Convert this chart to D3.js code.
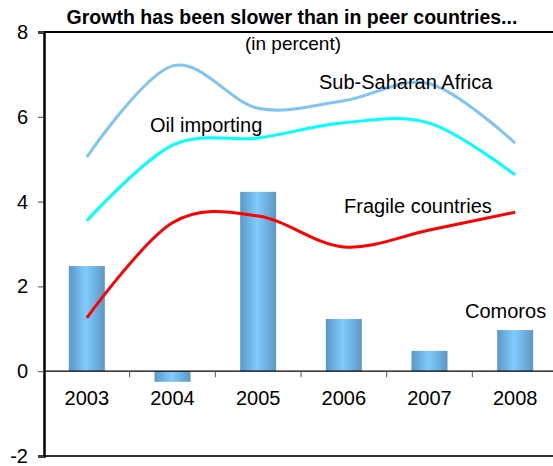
<!DOCTYPE html>
<html>
<head>
<meta charset="utf-8">
<script src="https://cdn.jsdelivr.net/npm/d3@7"></script>
<style>
  html, body { margin: 0; padding: 0; background: #fff; }
  svg { display: block; font-family: "Liberation Sans", Arial, sans-serif; }
</style>
</head>
<body>
<svg id="chart" width="553" height="466"></svg>
<script>
// Real GDP growth, percent
const years = ["2003", "2004", "2005", "2006", "2007", "2008"];
const comoros = [2.48, -0.25, 4.23, 1.23, 0.48, 0.97];
const subSaharanAfrica = [5.05, 7.2, 6.2, 6.38, 6.78, 5.38];
const oilImporting = [3.55, 5.33, 5.5, 5.86, 5.85, 4.63];
const fragileCountries = [1.26, 3.5, 3.66, 2.93, 3.33, 3.75];
const yTicks = [8, 6, 4, 2, 0, -2];

const svg = d3.select("#chart");
const margin = { left: 44, top: 32, right: 558, bottom: 456 };

const x = d3.scaleBand().domain(years).range([margin.left, margin.right]).paddingInner(0).paddingOuter(0);
const y = d3.scaleLinear().domain([-2, 8]).range([margin.bottom, margin.top]);

// Bar fill: darker edges, bright core
const defs = svg.append("defs");
const grad = defs.append("linearGradient").attr("id", "barGrad")
  .attr("x1", "0").attr("x2", "1").attr("y1", "0").attr("y2", "0");
grad.append("stop").attr("offset", "0%").attr("stop-color", "#5a98c6");
grad.append("stop").attr("offset", "47%").attr("stop-color", "#80cbfd");
grad.append("stop").attr("offset", "100%").attr("stop-color", "#5c98c4");

// Frame: top and bottom borders
svg.append("line").attr("x1", margin.left).attr("x2", margin.right)
  .attr("y1", margin.top).attr("y2", margin.top)
  .attr("stroke", "#000").attr("stroke-width", 2);
svg.append("line").attr("x1", margin.left).attr("x2", margin.right)
  .attr("y1", margin.bottom).attr("y2", margin.bottom)
  .attr("stroke", "#333").attr("stroke-width", 2.2);

// Bars
const barW = x.bandwidth() * 0.42;
svg.append("g").selectAll("rect").data(years).join("rect")
  .attr("x", d => x(d) + x.bandwidth() / 2 - barW / 2)
  .attr("width", barW)
  .attr("y", (d, i) => y(Math.max(0, comoros[i])))
  .attr("height", (d, i) => Math.abs(y(comoros[i]) - y(0)))
  .attr("fill", "url(#barGrad)");

// Zero line with category separators
svg.append("line").attr("x1", margin.left).attr("x2", margin.right)
  .attr("y1", y(0)).attr("y2", y(0))
  .attr("stroke", "#000").attr("stroke-width", 1.2);
svg.append("g").selectAll("line").data(years.slice(1)).join("line")
  .attr("x1", d => x(d)).attr("x2", d => x(d))
  .attr("y1", y(0)).attr("y2", y(0) + 6)
  .attr("stroke", "#555").attr("stroke-width", 1);

// Category labels
svg.append("g").selectAll("text").data(years).join("text")
  .attr("x", d => x(d) + x.bandwidth() / 2)
  .attr("y", y(0) + 34)
  .attr("text-anchor", "middle")
  .attr("font-size", 20)
  .attr("fill", "#000")
  .text(d => d);

// Smoothed lines
const line = d3.line()
  .x((d, i) => x(years[i]) + x.bandwidth() / 2)
  .y(d => y(d))
  .curve(d3.curveCatmullRom.alpha(0));
const series = [
  { values: subSaharanAfrica, color: "#80c4f2", width: 3 },
  { values: oilImporting, color: "#00ffff", width: 3 },
  { values: fragileCountries, color: "#ff0000", width: 3 }
];
svg.append("g").selectAll("path").data(series).join("path")
  .attr("d", d => line(d.values))
  .attr("fill", "none")
  .attr("stroke", d => d.color)
  .attr("stroke-width", d => d.width)
  .attr("stroke-linejoin", "round");

// Left axis (plain hyphen for negatives)
const yAxis = d3.axisLeft(y).tickValues(yTicks).tickSize(6).tickPadding(10).tickFormat(d => String(d));
const ax = svg.append("g").attr("transform", `translate(${margin.left},0)`).call(yAxis);
ax.select(".domain").attr("stroke", "#000").attr("stroke-width", 2.5);
ax.selectAll(".tick line").attr("stroke", "#444").attr("stroke-width", 1);
ax.selectAll(".tick text").attr("font-size", 20).attr("fill", "#000")
  .attr("font-family", "'Liberation Sans', Arial, sans-serif");

// Titles
svg.append("text").attr("x", 292).attr("y", 24).attr("text-anchor", "middle")
  .attr("font-size", 19.5).attr("font-weight", "bold").attr("fill", "#000")
  .text("Growth has been slower than in peer countries...");
svg.append("text").attr("x", 293).attr("y", 50).attr("text-anchor", "middle")
  .attr("font-size", 19).attr("fill", "#000")
  .text("(in percent)");

// Series labels
const labels = [
  { text: "Sub-Saharan Africa", x: 319, y: 89 },
  { text: "Oil importing", x: 150, y: 132 },
  { text: "Fragile countries", x: 344, y: 213 },
  { text: "Comoros", x: 465, y: 318 }
];
svg.append("g").selectAll("text").data(labels).join("text")
  .attr("x", d => d.x).attr("y", d => d.y)
  .attr("font-size", 20).attr("fill", "#000")
  .text(d => d.text);
</script>
</body>
</html>
